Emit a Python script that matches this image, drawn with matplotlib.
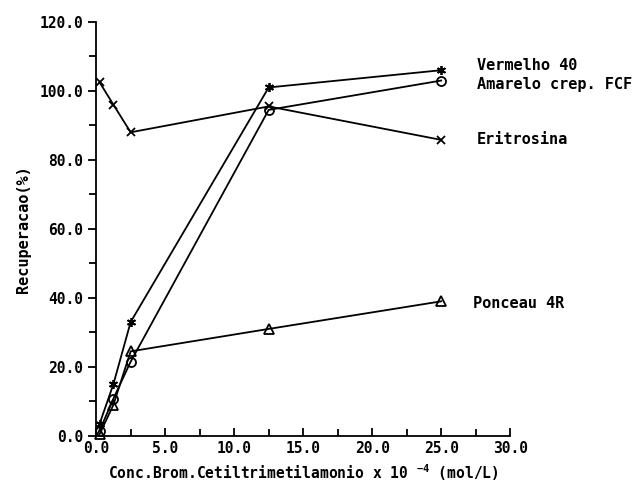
import matplotlib
matplotlib.use('Agg')
import matplotlib.pyplot as plt
from matplotlib.ticker import MultipleLocator, FormatStrFormatter

plt.rcParams.update({
    'font.family': 'DejaVu Sans Mono',
    'font.weight': 'bold',
    'mathtext.fontset': 'custom',
    'mathtext.rm': 'DejaVu Sans Mono:bold',
    'mathtext.it': 'DejaVu Sans Mono:bold',
    'mathtext.bf': 'DejaVu Sans Mono:bold',
})

# Données
conc = [0.25, 1.25, 2.5, 12.5, 25.0]
vermelho = [3.5, 15.0, 33.0, 101.0, 106.0]
amarelo = [1.5, 10.8, 21.5, 94.5, 103.0]
eritrosina = [102.5, 96.0, 88.0, 95.5, 85.8]
ponceau = [0.5, 9.0, 24.5, 31.0, 39.0]

labels = ['Vermelho 40', 'Amarelo crep. FCF', 'Eritrosina', 'Ponceau 4R']
label_x = [27.6, 27.6, 27.6, 27.3]
label_y = [107.5, 101.8, 85.8, 38.5]

fig = plt.figure(figsize=(6.41, 4.87), dpi=100)
ax = fig.add_axes([0.150, 0.105, 0.646, 0.850])

kw = dict(color='black', linewidth=1.3, clip_on=False)
ax.plot(conc, vermelho, marker=(6, 2, 0), markersize=6.5, markeredgewidth=1.3, **kw)
ax.plot(conc, amarelo, marker='o', markersize=6.5, markerfacecolor='none',
        markeredgewidth=1.3, **kw)
ax.plot(conc, eritrosina, marker='x', markersize=5.5, markeredgewidth=1.3, **kw)
ax.plot(conc, ponceau, marker='^', markersize=6.5, markerfacecolor='none',
        markeredgewidth=1.3, **kw)

for lab, lx, ly in zip(labels, label_x, label_y):
    ax.text(lx, ly, lab, fontsize=11, fontweight='bold', va='center', ha='left',
            clip_on=False)

ax.set_xlim(0, 30)
ax.set_ylim(0, 120)
ax.xaxis.set_major_locator(MultipleLocator(5))
ax.xaxis.set_minor_locator(MultipleLocator(2.5))
ax.yaxis.set_major_locator(MultipleLocator(20))
ax.yaxis.set_minor_locator(MultipleLocator(10))
ax.xaxis.set_major_formatter(FormatStrFormatter('%.1f'))
ax.yaxis.set_major_formatter(FormatStrFormatter('%.1f'))

ax.spines['top'].set_visible(False)
ax.spines['right'].set_visible(False)
ax.spines['left'].set_linewidth(1.3)
ax.spines['bottom'].set_linewidth(1.3)

ax.tick_params(axis='x', which='both', direction='in', width=1.3, labelsize=10.5, pad=4)
ax.tick_params(axis='x', which='major', length=6)
ax.tick_params(axis='x', which='minor', length=5)
ax.tick_params(axis='y', which='both', direction='out', width=1.3, labelsize=10.5)
ax.tick_params(axis='y', which='major', length=6)
ax.tick_params(axis='y', which='minor', length=5)

ax.set_xlabel(r'Conc.Brom.Cetiltrimetilamonio x 10 $^{-4}$ (mol/L)',
              fontsize=10.5, fontweight='bold', labelpad=4)
ax.set_ylabel('Recuperacao(%)', fontsize=11, fontweight='bold', labelpad=6)

fig.savefig('out.png', dpi=100)
